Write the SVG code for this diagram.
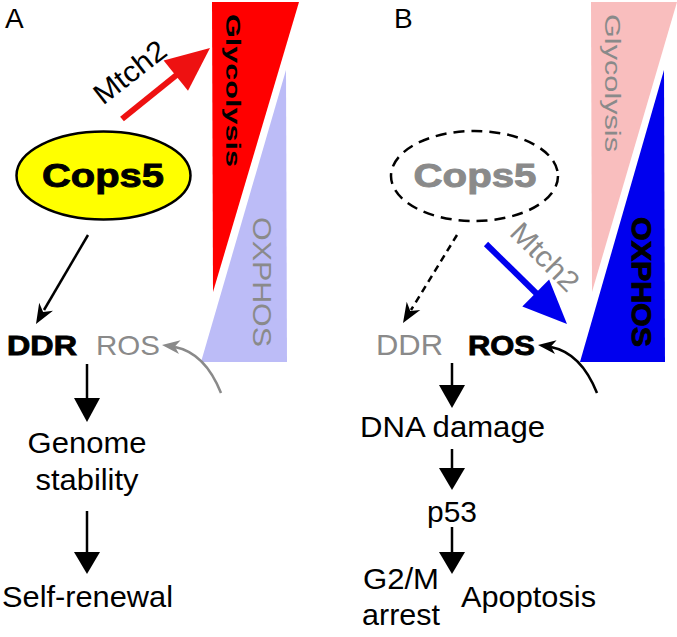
<svg xmlns="http://www.w3.org/2000/svg" width="677" height="637" viewBox="0 0 677 637">
<style>
text{font-family:"Liberation Sans",Arial,sans-serif;}
.lbl{font-size:29px;fill:#000;}
.gry{fill:#8a8a8a;}
.bold{font-weight:bold;}
.heavy{font-weight:bold;stroke:#000;stroke-width:0.9px;}
.heavyg{font-weight:bold;fill:#8a8a8a;stroke:#8a8a8a;stroke-width:0.9px;}
.thin{fill:none;stroke:#000;stroke-width:2.5;}
.head{fill:#000;stroke:none;}
</style>
<rect width="677" height="637" fill="#fff"/>

<g id="panel-labels">
<text x="5" y="28" style="font-size:28px">A</text>
<text x="394" y="28" style="font-size:28px">B</text>
</g>

<!-- Panel A metabolism -->
<g id="A-glycolysis">
<polygon points="212,2 299,2 213,292" fill="#ff0000"/>
<text transform="translate(226,14) rotate(90)" class="bold" style="font-size:21px" textLength="153" lengthAdjust="spacingAndGlyphs">Glycolysis</text>
</g>
<g id="A-oxphos">
<polygon points="286,70 287,362 201,362" fill="#bcbcf7"/>
<text transform="translate(253,217) rotate(90)" class="gry" style="font-size:26px" textLength="130" lengthAdjust="spacingAndGlyphs">OXPHOS</text>
</g>
<g id="A-cops5">
<ellipse cx="103.5" cy="175.5" rx="87" ry="44" fill="#ffff00" stroke="#000" stroke-width="2.5"/>
<text x="103" y="187" text-anchor="middle" class="heavy" style="font-size:34px" textLength="122" lengthAdjust="spacingAndGlyphs">Cops5</text>
</g>
<g id="A-ddr"><text x="7" y="355" class="heavy" style="font-size:28px" textLength="70" lengthAdjust="spacingAndGlyphs">DDR</text></g>
<g id="A-ros"><text x="96" y="355" class="gry" style="font-size:28px" textLength="64" lengthAdjust="spacingAndGlyphs">ROS</text></g>
<g id="A-genome"><text x="87" y="453" text-anchor="middle" class="lbl" textLength="119" lengthAdjust="spacingAndGlyphs">Genome</text>
<text x="87" y="490" text-anchor="middle" class="lbl" textLength="103" lengthAdjust="spacingAndGlyphs">stability</text></g>
<g id="A-selfrenewal"><text x="2" y="607" class="lbl" textLength="171" lengthAdjust="spacingAndGlyphs">Self-renewal</text></g>
<g id="A-mtch2"><text transform="translate(136,80) rotate(-38)" text-anchor="middle" class="lbl" textLength="84" lengthAdjust="spacingAndGlyphs">Mtch2</text></g>

<!-- Panel B -->
<g id="B-glycolysis">
<polygon points="591,2 677,2 592,292" fill="#f9bebe"/>
<text transform="translate(605,14) rotate(90)" class="gry" style="font-size:22px" textLength="138" lengthAdjust="spacingAndGlyphs">Glycolysis</text>
</g>
<g id="B-oxphos">
<polygon points="664,70 665,362 580,362" fill="#0000ee"/>
<text transform="translate(632,217) rotate(90)" class="heavy" style="font-size:27px" textLength="130" lengthAdjust="spacingAndGlyphs">OXPHOS</text>
</g>
<g id="B-cops5">
<ellipse cx="474.5" cy="176" rx="83.5" ry="45" fill="none" stroke="#000" stroke-width="2.5" stroke-dasharray="11,7"/>
<text x="475" y="187" text-anchor="middle" class="heavyg" style="font-size:34px" textLength="123" lengthAdjust="spacingAndGlyphs">Cops5</text>
</g>
<g id="B-ddr"><text x="376" y="355" class="gry" style="font-size:29px" textLength="67" lengthAdjust="spacingAndGlyphs">DDR</text></g>
<g id="B-ros"><text x="468" y="355" class="heavy" style="font-size:28px" textLength="67" lengthAdjust="spacingAndGlyphs">ROS</text></g>
<g id="B-dna"><text x="360" y="437" class="lbl" textLength="185" lengthAdjust="spacingAndGlyphs">DNA damage</text></g>
<g id="B-p53"><text x="427" y="522" class="lbl" textLength="50" lengthAdjust="spacingAndGlyphs">p53</text></g>
<g id="B-arrest"><text x="363" y="589" class="lbl" textLength="76" lengthAdjust="spacingAndGlyphs">G2/M</text>
<text x="362" y="625" class="lbl" textLength="78" lengthAdjust="spacingAndGlyphs">arrest</text></g>
<g id="B-apoptosis"><text x="461" y="607" class="lbl" textLength="135" lengthAdjust="spacingAndGlyphs">Apoptosis</text></g>
<g id="B-mtch2"><text transform="translate(538,264) rotate(45)" text-anchor="middle" class="lbl gry" textLength="84" lengthAdjust="spacingAndGlyphs">Mtch2</text></g>

<g id="connectors">
<!-- A: Mtch2 red arrow -->
<line x1="122" y1="119" x2="179" y2="73" stroke="#ee1111" stroke-width="6"/>
<polygon points="210,48 188,90.8 163.6,60.4" fill="#ee1111"/>
<!-- A: Cops5 -> DDR -->
<line x1="88" y1="235" x2="44" y2="310" class="thin"/>
<path d="M36,324 L39.2,302.7 L43.1,311.9 L53,310.7 Z" class="head"/>
<!-- A: OXPHOS -> ROS gray curve -->
<path d="M221,393 Q205,353 175,347" fill="none" stroke="#8a8a8a" stroke-width="2.5"/>
<path d="M162,345 L180.6,340.3 L174.9,346.6 L179,354.1 Z" fill="#8a8a8a"/>
<!-- A: DDR -> Genome stability -->
<line x1="87" y1="364" x2="87" y2="400" class="thin"/>
<polygon points="74,398 100,398 87,422" class="head"/>
<!-- A: Genome stability -> Self-renewal -->
<line x1="87" y1="511" x2="87" y2="554" class="thin"/>
<polygon points="74,552 100,552 87,574" class="head"/>

<!-- B: dashed Cops5 -> DDR -->
<line x1="457" y1="235" x2="411" y2="310" class="thin" stroke-dasharray="7,5"/>
<path d="M403,323 L406.7,301.7 L410.3,311.1 L420.3,310.1 Z" class="head"/>
<!-- B: Mtch2 blue arrow -->
<line x1="486" y1="244" x2="538" y2="295" stroke="#0000ee" stroke-width="6"/>
<polygon points="567,324 522.3,306.6 549.1,279.6" fill="#0000ee"/>
<!-- B: OXPHOS -> ROS black curve -->
<path d="M597,393 Q581,353 551,347" fill="none" stroke="#000" stroke-width="2.5"/>
<path d="M538,345 L556.6,340.3 L550.9,346.6 L555,354.1 Z" class="head"/>
<!-- B: ROS -> DNA damage -->
<line x1="452" y1="363" x2="452" y2="387" class="thin"/>
<polygon points="439,385 465,385 452,408" class="head"/>
<!-- B: DNA damage -> p53 -->
<line x1="452" y1="449" x2="452" y2="470" class="thin"/>
<polygon points="439,468 465,468 452,490" class="head"/>
<!-- B: p53 -> outcomes -->
<line x1="452" y1="527" x2="452" y2="554" class="thin"/>
<polygon points="439,552 465,552 452,574" class="head"/>
</g>
</svg>
